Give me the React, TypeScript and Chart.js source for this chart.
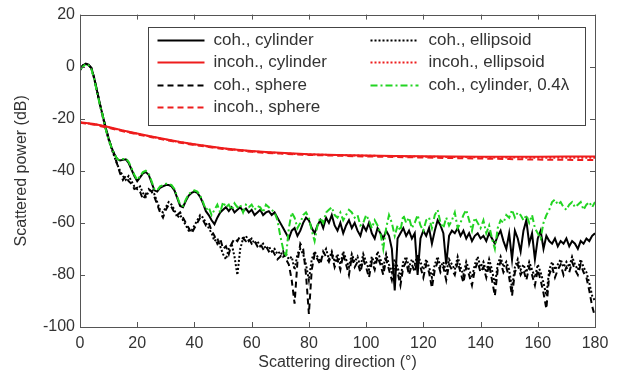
import { useEffect, useRef } from "react";
import { Chart, registerables } from "chart.js";
Chart.register(...registerables);

const W = 633;
const H = 380;

// Scattering direction (deg) for the coherent curves: 0..180 step 1
const ANGLES: number[] = Array.from({ length: 181 }, (_, i) => i);
// Scattering direction for the incoherent (smooth) curves
const RED_ANGLES = [0, 5, 10, 15, 20, 25, 30, 35, 40, 45, 50, 55, 60, 65, 70, 75, 80, 90, 100, 110, 120, 130, 140, 150, 160, 170, 180];

const X_TICKS = [0, 20, 40, 60, 80, 100, 120, 140, 160, 180];
const Y_TICKS = [-100, -80, -60, -40, -20, 0, 20];

const COH_CYL = [
  -1.5, 0.5, 1.2, 0.8, -0.5, -4.5, -9.5, -14.5, -19, -23.5,
  -27.5, -31, -33.5, -35.5, -36, -35.8, -35.6, -37, -39.5, -42,
  -44, -42.5, -41, -40.5, -41.5, -44.5, -47.5, -48, -46.5, -46,
  -45.5, -45.5, -46, -47.5, -50.5, -53.5, -54, -51.5, -49.5, -48.5,
  -48, -48.5, -50, -52.5, -55.5, -57, -59, -60.5, -58, -56,
  -55, -54, -55.5, -54, -56, -55, -54, -55.5, -54.5, -56,
  -55, -57, -56, -55, -57, -56, -55.5, -57, -56, -58,
  -60, -62, -64, -66, -63, -62, -65, -63, -60, -58,
  -59, -62, -64, -61, -59, -62, -58, -60, -57, -61,
  -63, -60, -64, -61, -59, -62, -60, -63, -65, -61,
  -63, -60, -64, -66, -62, -64, -66, -63, -65, -70,
  -86, -66, -64, -62, -65, -63, -66, -64, -80, -66,
  -63, -65, -62, -68, -63, -59, -61, -64, -76, -65,
  -63, -64, -62, -65, -63, -66, -64, -67, -65, -64,
  -66, -65, -67, -64, -66, -68, -65, -63, -67, -70,
  -64, -74, -63, -66, -71, -63, -59, -68, -64, -74,
  -66, -63, -70, -65, -67, -68, -66, -69, -67, -68,
  -66, -69, -67, -68, -70, -67, -68, -66, -67, -65,
  -64,
];

const COH_SPH = [
  -1, 0.5, 1, 0.5, -0.5, -4.5, -9.5, -14.5, -19, -23.5,
  -27.5, -31, -34, -37.5, -41, -43.5, -42, -44, -45, -47,
  -46.5, -48, -51, -49, -47, -48, -50, -53, -56, -58,
  -55, -53, -54, -56, -57, -56, -58, -60, -62, -64,
  -62, -60, -58, -59, -61, -60, -63, -65, -68, -66,
  -70, -69, -72, -68, -66, -67, -65, -66, -67, -66,
  -68, -67, -69, -68, -70, -69, -71, -70, -72, -74,
  -73, -71, -74, -76, -82, -91, -75, -68, -70, -80,
  -95, -78, -72, -74, -76, -71, -73, -75, -72, -77,
  -74, -78, -72, -76, -80, -73, -77, -75, -79, -74,
  -77, -81, -75, -78, -73, -76, -80, -74, -78, -82,
  -76, -79, -84, -77, -75, -80, -76, -79, -74, -77,
  -81, -76, -79, -85, -78, -75, -79, -77, -82, -76,
  -78, -80, -75, -79, -83, -77, -80, -84, -78, -75,
  -79, -77, -81, -76, -82, -88, -78, -75, -79, -77,
  -81, -88, -79, -76, -80, -78, -82, -77, -80, -84,
  -78, -82, -87, -93, -80, -77, -81, -78, -76, -80,
  -77, -79, -75, -78, -80, -76, -79, -81, -86, -92,
  -96,
];

const COH_ELL = [
  -1.2, 0.3, 1, 0.6, -0.8, -4.8, -9.8, -14.8, -19.5, -24,
  -28, -31.5, -34.5, -37.5, -40, -42, -43.5, -42, -44, -46,
  -47, -46, -48.5, -50, -48, -47, -49, -52, -55, -56,
  -54, -52, -53, -55, -58, -57, -59, -61, -63, -63,
  -61, -59, -57, -58, -60, -62, -64, -67, -66, -69,
  -72, -74, -70, -68, -73, -80, -70, -66, -65, -67,
  -66, -68, -67, -69, -68, -70, -69, -71, -70, -72,
  -71, -73, -72, -74, -73, -78, -72, -70, -72, -76,
  -82, -74, -71, -73, -75, -72, -70, -74, -71, -75,
  -72, -76, -71, -74, -77, -72, -75, -73, -77, -72,
  -75, -78, -73, -76, -71, -74, -77, -72, -76, -79,
  -74, -77, -81, -75, -73, -77, -74, -76, -72, -75,
  -78, -74, -77, -81, -76, -73, -77, -75, -79, -74,
  -76, -78, -73, -77, -80, -75, -78, -81, -76, -73,
  -77, -75, -79, -74, -78, -84, -76, -73, -77, -75,
  -78, -85, -77, -74, -78, -76, -79, -75, -78, -81,
  -76, -79, -83, -88, -78, -75, -78, -76, -74, -77,
  -75, -77, -73, -76, -78, -74, -77, -79, -83, -88,
  -90,
];

const COH_CYL_04 = [
  -1, 0, 1, 0.5, -1, -5, -10, -15, -19, -24,
  -28, -31, -33.5, -35.5, -36, -35.5, -35.3, -36.5, -39, -41.5,
  -43.5, -42, -40.5, -40, -41, -44, -47, -47.5, -46, -45.5,
  -45, -45, -45.5, -47, -50, -53, -53.5, -51, -49, -48,
  -47.5, -48, -49.5, -52, -55, -54, -57, -55, -53, -56,
  -52, -54, -53, -55, -52.5, -54, -53, -56, -53, -54,
  -53, -55, -53.5, -54, -56, -53, -54, -55, -56, -59,
  -65, -70, -73, -62, -56, -58, -62, -60, -57, -56,
  -58, -63, -67, -61, -58, -60, -56, -55, -54, -57,
  -58, -56, -59, -57, -55, -56, -58, -57, -61, -60,
  -57, -59, -62, -59, -61, -64, -70, -62, -57, -60,
  -65, -61, -63, -57, -60, -58, -62, -60, -57, -61,
  -63, -59, -58, -62, -57, -55, -60, -62, -58, -61,
  -59, -56, -62, -60, -57, -55, -59, -63, -58, -60,
  -62, -59, -64, -61, -66, -70, -62, -59, -60, -57,
  -58, -55, -58, -56, -57, -59, -57, -60, -57, -62,
  -64, -66, -60, -57, -55, -52, -51, -53, -52, -54,
  -55, -53, -52, -54, -53, -52, -55, -53, -52, -54,
  -52,
];

const INCOH_CYL = [-21.3, -22, -23.2, -24.5, -25.7, -26.8, -27.9, -28.9, -29.8, -30.6, -31.3, -31.9, -32.4, -32.8, -33.1, -33.4, -33.6, -33.9, -34.1, -34.3, -34.4, -34.5, -34.6, -34.6, -34.6, -34.5, -34.5];
const INCOH_SPH = [-21.5, -22.3, -23.5, -24.8, -26, -27.1, -28.2, -29.2, -30.1, -30.9, -31.6, -32.2, -32.7, -33.1, -33.4, -33.7, -33.9, -34.2, -34.5, -34.7, -34.9, -35.1, -35.3, -35.5, -35.7, -35.8, -35.9];
const INCOH_ELL = [-21.4, -22.1, -23.3, -24.6, -25.8, -26.9, -28, -29, -29.9, -30.7, -31.4, -32, -32.5, -32.9, -33.2, -33.5, -33.7, -34, -34.2, -34.4, -34.6, -34.7, -34.8, -34.9, -35, -35, -35];

const LEGEND_COL1 = ["coh., cylinder", "incoh., cylinder", "coh., sphere", "incoh., sphere"];
const LEGEND_COL2 = ["coh., ellipsoid", "incoh., ellipsoid", "coh., cylinder, 0.4\u03bb"];

const X_TITLE = "Scattering direction (\u00b0)";
const Y_TITLE = "Scattered power (dB)";

const FONT = '"Liberation Sans", Arial, sans-serif';
const BLACK = "#000000";
const RED = "#ee1c1c";
const GREEN = "#22d422";
const AXIS = "#555555";
const TEXT = "#333333";

function pts(xs: number[], ys: number[]) {
  return xs.map((x, i) => ({ x, y: ys[i] }));
}

const framePlugin = {
  id: "matlabFrame",
  afterDraw(chart: any) {
    const ctx = chart.ctx as CanvasRenderingContext2D;
    const ca = chart.chartArea;
    const xs = chart.scales.x;
    const ys = chart.scales.y;
    ctx.save();
    // frame
    ctx.strokeStyle = AXIS;
    ctx.lineWidth = 1;
    ctx.strokeRect(Math.round(ca.left) + 0.5, Math.round(ca.top) + 0.5, Math.round(ca.right - ca.left), Math.round(ca.bottom - ca.top));
    // inward ticks
    const TL = 5;
    ctx.beginPath();
    X_TICKS.forEach((v) => {
      const px = Math.round(xs.getPixelForValue(v)) + 0.5;
      ctx.moveTo(px, ca.bottom);
      ctx.lineTo(px, ca.bottom - TL);
      ctx.moveTo(px, ca.top);
      ctx.lineTo(px, ca.top + TL);
    });
    Y_TICKS.forEach((v) => {
      const py = Math.round(ys.getPixelForValue(v)) + 0.5;
      ctx.moveTo(ca.left, py);
      ctx.lineTo(ca.left + TL, py);
      ctx.moveTo(ca.right, py);
      ctx.lineTo(ca.right - TL, py);
    });
    ctx.stroke();

    // axis titles
    ctx.fillStyle = TEXT;
    ctx.font = `16px ${FONT}`;
    ctx.textAlign = "center";
    ctx.textBaseline = "middle";
    ctx.fillText(X_TITLE, (ca.left + ca.right) / 2, ca.bottom + 36);
    ctx.save();
    ctx.translate(ca.left - 58, (ca.top + ca.bottom) / 2);
    ctx.rotate(-Math.PI / 2);
    ctx.fillText(Y_TITLE, 0, 0);
    ctx.restore();

    // legend box
    const bx = Math.round(ca.left + 68) + 0.5;
    const by = Math.round(ca.top + 12) + 0.5;
    const bw = Math.round(ca.right - 10 - (ca.left + 68));
    const bh = 98;
    ctx.fillStyle = "#ffffff";
    ctx.fillRect(bx, by, bw, bh);
    ctx.strokeStyle = "#444444";
    ctx.lineWidth = 1;
    ctx.strokeRect(bx, by, bw, bh);

    const dsByLabel: Record<string, any> = {};
    chart.data.datasets.forEach((d: any) => (dsByLabel[d.label] = d));
    const rowY = [by + 12, by + 34.5, by + 57, by + 79.5];
    const drawCol = (labels: string[], lx0: number, lx1: number, tx: number) => {
      labels.forEach((lab, i) => {
        const d = dsByLabel[lab];
        const y = Math.round(rowY[i]) + 0.5;
        ctx.save();
        ctx.strokeStyle = d.borderColor;
        ctx.lineWidth = d.borderWidth;
        ctx.setLineDash(d.borderDash || []);
        ctx.beginPath();
        ctx.moveTo(lx0, y);
        ctx.lineTo(lx1, y);
        ctx.stroke();
        ctx.restore();
        ctx.fillStyle = TEXT;
        ctx.font = `17px ${FONT}`;
        ctx.textAlign = "left";
        ctx.textBaseline = "middle";
        ctx.fillText(lab, tx, y);
      });
    };
    drawCol(LEGEND_COL1, bx + 9, bx + 56, bx + 65);
    drawCol(LEGEND_COL2, bx + 222, bx + 270, bx + 280);
    ctx.restore();
  },
};

export default function App() {
  const ref = useRef<HTMLCanvasElement>(null);
  useEffect(() => {
    document.body.style.margin = "0";
    const canvas = ref.current!;
    const line = (label: string, xs: number[], ys: number[], color: string, dash: number[], order: number, width = 2) => ({
      label,
      data: pts(xs, ys),
      borderColor: color,
      backgroundColor: color,
      borderWidth: width,
      borderDash: dash,
      pointRadius: 0,
      fill: false,
      tension: 0,
      order,
    });
    const chart = new Chart(canvas, {
      type: "line",
      data: {
        datasets: [
          line("coh., cylinder", ANGLES, COH_CYL, BLACK, [], 6),
          line("incoh., cylinder", RED_ANGLES, INCOH_CYL, RED, [], 2),
          line("coh., sphere", ANGLES, COH_SPH, BLACK, [6, 4], 5),
          line("incoh., sphere", RED_ANGLES, INCOH_SPH, RED, [6, 4], 1),
          line("coh., ellipsoid", ANGLES, COH_ELL, BLACK, [2, 2], 4),
          line("incoh., ellipsoid", RED_ANGLES, INCOH_ELL, RED, [2, 2], 0),
          line("coh., cylinder, 0.4\u03bb", ANGLES, COH_CYL_04, GREEN, [7, 3, 2, 3], 3),
        ] as any,
      },
      options: {
        responsive: false,
        animation: false,
        devicePixelRatio: 1,
        layout: { padding: { top: 8, right: 38, left: 0, bottom: 0 } },
        plugins: { legend: { display: false }, tooltip: { enabled: false } },
        scales: {
          x: {
            type: "linear",
            min: 0,
            max: 180,
            afterFit: (s: any) => {
              s.height = 53;
            },
            afterBuildTicks: (s: any) => {
              s.ticks = X_TICKS.map((v) => ({ value: v }));
            },
            grid: { display: false, drawTicks: false },
            border: { display: false },
            ticks: { padding: 7, color: TEXT, font: { family: FONT, size: 16 }, autoSkip: false, maxRotation: 0 },
          },
          y: {
            type: "linear",
            min: -100,
            max: 20,
            afterFit: (s: any) => {
              s.width = 80;
            },
            afterBuildTicks: (s: any) => {
              s.ticks = Y_TICKS.map((v) => ({ value: v }));
            },
            grid: { display: false, drawTicks: false },
            border: { display: false },
            ticks: { padding: 5, color: TEXT, font: { family: FONT, size: 16 }, autoSkip: false },
          },
        },
      },
      plugins: [framePlugin],
    });
    return () => chart.destroy();
  }, []);
  return (
    <div style={{ width: W, height: H, background: "#fff" }}>
      <canvas ref={ref} width={W} height={H} style={{ display: "block" }} />
    </div>
  );
}
